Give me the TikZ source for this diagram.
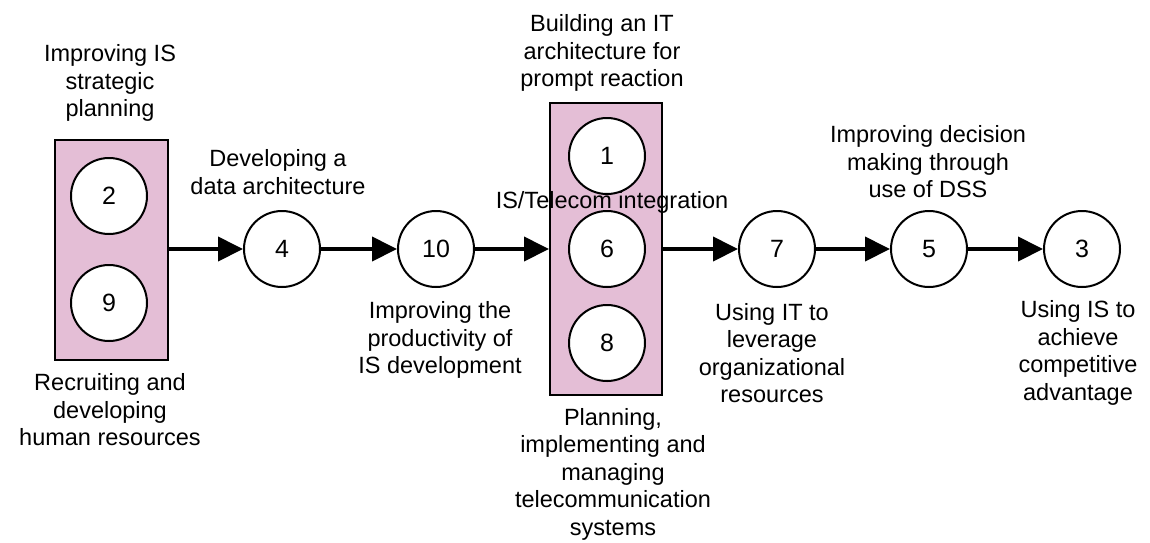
\documentclass[tikz,border=0pt]{standalone}
\usepackage{fontspec}
\setmainfont{Liberation Sans}
\usetikzlibrary{arrows.meta}
\definecolor{boxpink}{RGB}{228,190,214}
\begin{document}
\begin{tikzpicture}[x=1pt,y=-1pt,
  num/.style={circle,draw=black,line width=2pt,fill=white,minimum size=76pt,inner sep=0pt,font=\fontsize{25}{28}\selectfont},
  grp/.style={draw=black,line width=2pt,fill=boxpink,inner sep=0pt},
  lbl/.style={align=center,inner sep=0pt,font=\fontsize{23.5}{27.5}\selectfont},
  flow/.style={line width=4pt,-{Triangle[length=25pt,width=24pt]}}
]
\useasboundingbox (0,0) rectangle (1150,542);
% group boxes
\node[grp,minimum width=113pt,minimum height=220pt] (bl) at (111.5,250) {};
\node[grp,minimum width=112pt,minimum height=292pt] (bm) at (606,249) {};
% circles
\node[num] (c2) at (109,196) {2};
\node[num] (c9) at (109,303) {9};
\node[num] (c4) at (282,249) {4};
\node[num] (c10) at (436,249) {10};
\node[num] (c1) at (607,156) {1};
\node[num] (c6) at (607,249) {6};
\node[num] (c8) at (607,343) {8};
\node[num] (c7) at (777,249) {7};
\node[num] (c5) at (929,249) {5};
\node[num] (c3) at (1082,249) {3};
% connectors
\draw[flow] (bl.east |- c4) -- (c4.west);
\draw[flow] (c4) -- (c10);
\draw[flow] (c10.east) -- (bm.west |- c10);
\draw[flow] (bm.east |- c7) -- (c7.west);
\draw[flow] (c7) -- (c5);
\draw[flow] (c5) -- (c3);
% labels
\node[lbl] (t2) at (110,83) {Improving IS\\strategic\\planning};
\node[lbl] (t9) at (110,410) {Recruiting and\\developing\\human resources};
\node[lbl] (t4) at (278,172) {Developing a\\data architecture};
\node[lbl] (t10) at (440,340) {Improving the\\productivity of\\IS development};
\node[lbl] (t1) at (602,53) {Building an IT\\architecture for\\prompt reaction};
\node[lbl] (t6) at (612,202) {IS/Telecom integration};
\node[lbl] (t8) at (613,474) {Planning,\\implementing and\\managing\\telecommunication\\systems};
\node[lbl] (t7) at (772,353) {Using IT to\\leverage\\organizational\\resources};
\node[lbl] (t5) at (928,162) {Improving decision\\making through\\use of DSS};
\node[lbl] (t3) at (1078,353) {Using IS to\\achieve\\competitive\\advantage};
\end{tikzpicture}
\end{document}
